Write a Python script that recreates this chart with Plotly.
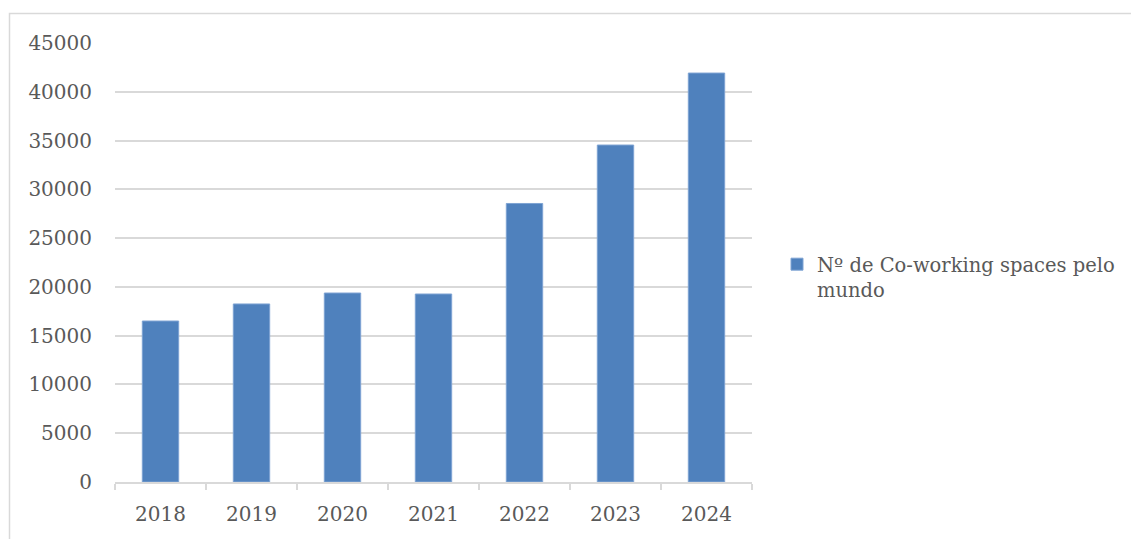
import plotly.graph_objects as go

years = ["2018", "2019", "2020", "2021", "2022", "2023", "2024"]
spaces = [16500, 18250, 19370, 19270, 28550, 34540, 41920]
series_name = "Nº de Co-working spaces pelo<br>mundo"
y_ticks = [0, 5000, 10000, 15000, 20000, 25000, 30000, 35000, 40000, 45000]

# page offset (browser body margin)
OFF = 8
W, H = 1139 - OFF, 539 - OFF
L, R, T, B = 115 - OFF, 752 - OFF, 43 - OFF, 482 - OFF

font_family = "DejaVu Serif"
text_color = "#595959"
grid_color = "#d9d9d9"

fig = go.Figure()
fig.add_trace(go.Bar(
    x=years, y=spaces, name=series_name,
    marker=dict(color="#4f81bd", line=dict(color="#7ea3d3", width=1)),
    showlegend=True,
))

def px_x(x):
    return (x - OFF - L) / (R - L)

def px_y(y):
    return (B - (y - OFF)) / (B - T)

fig.update_layout(
    width=W, height=H,
    margin=dict(l=L, r=W - R, t=T, b=H - B, autoexpand=False),
    paper_bgcolor="white", plot_bgcolor="white",
    font=dict(family=font_family, size=20, color=text_color),
    bargap=0.6,
    showlegend=True,
    legend=dict(
        x=px_x(777), y=px_y(245), xanchor="left", yanchor="top",
        itemwidth=30, valign="top", bgcolor="rgba(0,0,0,0)",
        font=dict(family=font_family, size=19.5, color=text_color),
        tracegroupgap=0,
    ),
    xaxis=dict(
        showline=True, linecolor=grid_color, linewidth=1.5,
        ticks="outside", tickson="boundaries", ticklen=6, tickcolor=grid_color, tickwidth=1.5,
        showgrid=False, ticklabelstandoff=13,
        tickfont=dict(family=font_family, size=20, color=text_color),
    ),
    yaxis=dict(
        range=[0, 45000], tickvals=y_ticks, ticktext=[str(v) for v in y_ticks],
        showgrid=True, gridcolor=grid_color, gridwidth=1.5,
        zeroline=False, showline=False, ticks="", ticklabelstandoff=22,
        tickfont=dict(family=font_family, size=20, color=text_color),
    ),
)

# outer chart border (top and left visible)
fig.add_shape(type="rect", xref="paper", yref="paper",
              x0=px_x(9.5), x1=px_x(1145), y0=px_y(545), y1=px_y(13.5),
              line=dict(color=grid_color, width=1.5), fillcolor="rgba(0,0,0,0)", layer="below")

fig.write_html("out.html")
